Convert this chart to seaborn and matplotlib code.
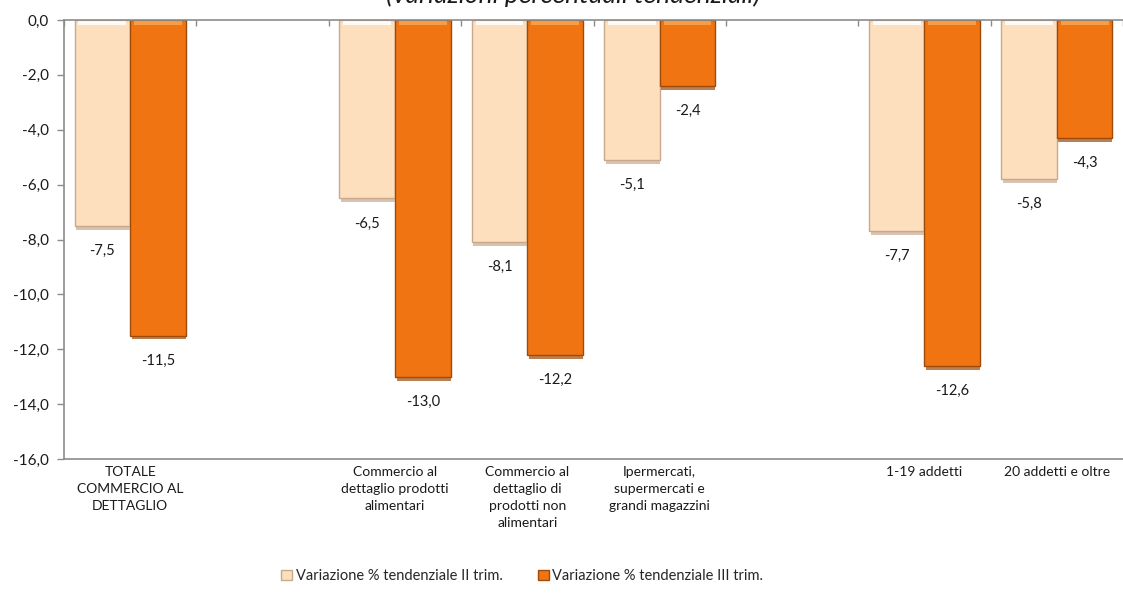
import numpy as np
import pandas as pd
import matplotlib
matplotlib.use("Agg")
import matplotlib.pyplot as plt
import seaborn as sns
from matplotlib.patches import Rectangle

# Category slots (two blank slots separate the groups)
categories = [
    "TOTALE\nCOMMERCIO AL\nDETTAGLIO",
    " ",
    "Commercio al\ndettaglio prodotti\nalimentari",
    "Commercio al\ndettaglio di\nprodotti non\nalimentari",
    "Ipermercati,\nsupermercati e\ngrandi magazzini",
    "  ",
    "1-19 addetti",
    "20 addetti e oltre",
]
series_names = [
    "Variazione % tendenziale II trim.",
    "Variazione % tendenziale III trim.",
]
values_ii = [-7.5, np.nan, -6.5, -8.1, -5.1, np.nan, -7.7, -5.8]
values_iii = [-11.5, np.nan, -13.0, -12.2, -2.4, np.nan, -12.6, -4.3]
y_ticks = [0, -2, -4, -6, -8, -10, -12, -14, -16]

colors = ["#FDDFBE", "#F07512"]
edges = ["#C9A88E", "#9E4A08"]
highlights = ["#FFFFFF", "#F9A54E"]

df = pd.DataFrame({
    "categoria": categories * 2,
    "serie": [series_names[0]] * len(categories) + [series_names[1]] * len(categories),
    "valore": values_ii + values_iii,
})

sns.set_style("white")
plt.rcParams["font.family"] = ["Lato", "DejaVu Sans"]

fig = plt.figure(figsize=(11.23, 5.94), dpi=100)
ax = fig.add_axes([64 / 1123, 1 - 459 / 594, 1 - 64 / 1123, (459 - 20) / 594])

sns.barplot(
    data=df, x="categoria", y="valore", hue="serie",
    order=categories, hue_order=series_names,
    palette=colors, width=0.84, gap=0, ax=ax, legend=False,
    saturation=1,
)

# Style bars: edges, top highlight and small shadow under the bar end
for container, ec, hc in zip(ax.containers, edges, highlights):
    for bar in container:
        h = bar.get_height()
        if np.isnan(h) or h == 0:
            continue
        bar.set_edgecolor(ec)
        bar.set_linewidth(1.0)
        x0, w = bar.get_x(), bar.get_width()
        ax.add_patch(Rectangle((x0 + w * 0.03, h), w * 0.97, -0.14,
                               facecolor=ec, alpha=0.7, edgecolor="none", zorder=1.5))
        ax.add_patch(Rectangle((x0 + w * 0.07, -0.02), w * 0.86, -0.16,
                               facecolor=hc, alpha=0.85, edgecolor="none", zorder=3))

# Value labels below each bar
for container in ax.containers:
    for bar in container:
        h = bar.get_height()
        if np.isnan(h):
            continue
        ax.annotate(f"{h:.1f}".replace(".", ","),
                    xy=(bar.get_x() + bar.get_width() / 2, h),
                    xytext=(0, -13), textcoords="offset points",
                    ha="center", va="top", fontsize=10.5, color="#1a1a1a")

ax.set_xlim(-0.5, len(categories) - 0.5)
ax.set_ylim(-16, 0)
ax.set_yticks(y_ticks)
ax.set_yticklabels([f"{t:.1f}".replace(".", ",") for t in y_ticks], fontsize=11, color="#1a1a1a")
ax.set_xticks(range(len(categories)))
ax.set_xticklabels(categories, fontsize=10, color="#1a1a1a", va="top", linespacing=1.5)
ax.tick_params(axis="x", which="major", length=0, pad=5)
ax.set_xticks(np.arange(-0.5, len(categories) + 0.5, 1), minor=True)
ax.tick_params(axis="x", which="minor", top=True, bottom=False, direction="in",
               length=4, color="#8c8c8c", width=1)
ax.tick_params(axis="y", direction="out", length=5, color="#8c8c8c", width=1, left=True, pad=6)
ax.set_xlabel("")
ax.set_ylabel("")

for side in ["left", "top", "bottom"]:
    ax.spines[side].set_visible(True)
    ax.spines[side].set_color("#8c8c8c")
    ax.spines[side].set_linewidth(1.2)
ax.spines["right"].set_visible(False)

# Legend
handles = [Rectangle((0, 0), 1, 1, facecolor=c, edgecolor=e) for c, e in zip(colors, edges)]
fig.legend(handles, series_names, loc="center", bbox_to_anchor=(0.465, 1 - 576 / 594),
           ncol=2, frameon=False, fontsize=10.5, handlelength=0.75, handleheight=0.75,
           handletextpad=0.25, columnspacing=2.4)

# Subtitle, partly above the top edge
fig.text(0.51, 1 - 3 / 594, "(variazioni percentuali tendenziali)", ha="center",
         va="baseline", fontsize=19, style="italic", color="#1a1a1a")

fig.savefig("out.png", dpi=100)
